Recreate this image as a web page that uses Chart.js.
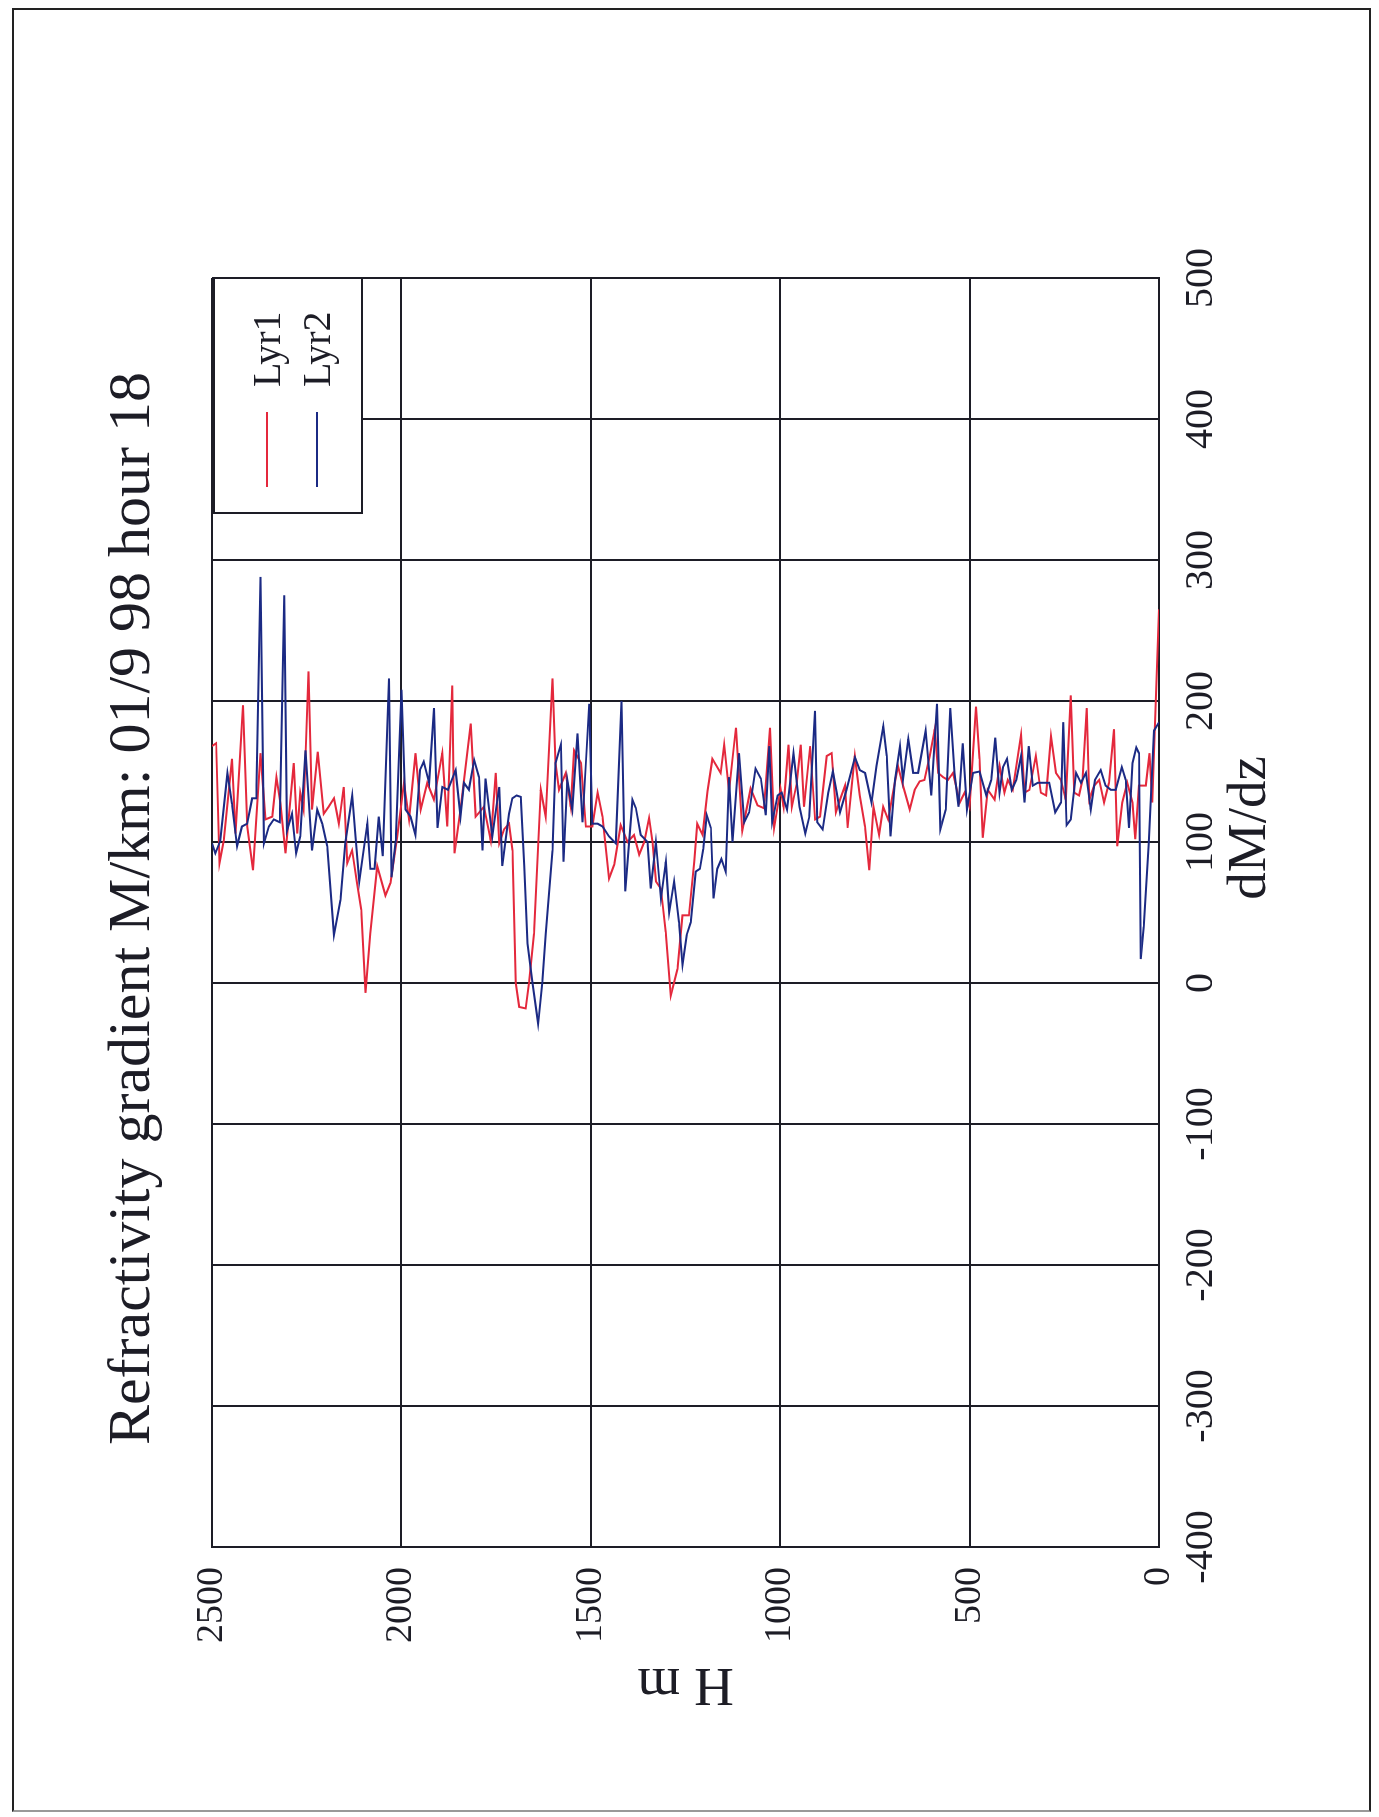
<!DOCTYPE html>
<html>
<head>
<meta charset="utf-8">
<title>Refractivity gradient M/km</title>
<script src="https://cdn.jsdelivr.net/npm/chart.js@4.4.1/dist/chart.umd.min.js"></script>
<style>
  html, body { margin: 0; padding: 0; background: #fff; overflow: hidden; }
  body { width: 1379px; height: 1817px; position: relative; }
  /* scanned page frame */
  #frame { position: absolute; left: 12px; top: 8px; width: 1359px; height: 1804px;
           border: 2px solid #222; border-bottom-color: #999; box-sizing: border-box; }
  /* the chart was printed landscape, page is turned a quarter to the left */
  #rot { position: absolute; left: 0; top: 0; width: 1817px; height: 1379px;
         transform-origin: 0 0; transform: translateY(1817px) rotate(-90deg); }
</style>
</head>
<body>
<div id="frame"></div>
<div id="rot"><canvas id="chart" width="1817" height="1379"></canvas></div>
<script>
// ---- data ----
const heightTicks = [0, 500, 1000, 1500, 2000, 2500];
const dMdzTicks = [-400, -300, -200, -100, 0, 100, 200, 300, 400, 500];

// Lyr1: heights (m) and dM/dz
const lyr1H = [2500,2489,2480,2469,2447,2438,2418,2407,2392,2372,
  2359,2341,2330,2319,2306,2284,2275,2267,2258,2245,
  2236,2221,2205,2192,2178,2165,2152,2143,2130,2117,
  2106,2095,2082,2064,2042,2029,2011,1993,1980,1963,
  1949,1932,1914,1892,1879,1866,1860,1844,1817,1804,
  1782,1764,1751,1742,1729,1716,1707,1698,1689,1672,
  1663,1650,1632,1619,1601,1593,1584,1566,1553,1544,
  1526,1513,1496,1482,1469,1452,1438,1421,1403,1386,
  1372,1359,1346,1337,1328,1315,1302,1289,1271,1258,
  1241,1227,1219,1205,1192,1179,1157,1148,1135,1117,
  1100,1078,1060,1043,1027,1016,999,991,978,969,
  956,946,937,921,908,895,877,864,853,842,
  829,822,811,803,790,776,765,754,739,728,
  715,702,689,676,658,645,632,619,605,592,
  583,570,557,544,526,513,500,483,474,465,
  452,434,421,408,399,386,364,355,342,325,
  312,298,285,272,259,246,233,224,211,202,
  191,184,171,158,145,132,119,110,97,84,
  70,63,53,35,25,18,0];
const lyr1 = [168,170,85,101,159,106,197,111,80,163,
  116,118,146,127,92,156,106,135,123,221,
  123,164,120,125,131,113,139,85,94,71,
  52,-7,35,83,62,71,104,142,116,163,
  123,142,130,163,111,211,92,123,184,118,
  125,101,149,99,109,113,94,0,-17,-18,
  0,35,137,118,216,156,137,149,125,165,
  156,111,111,135,118,74,84,112,100,105,
  91,100,117,100,72,67,36,-9,10,48,
  48,86,113,105,136,159,149,169,136,181,
  108,138,126,124,181,110,138,125,169,125,
  142,169,125,168,116,118,161,163,121,130,
  140,110,140,161,133,111,80,125,105,125,
  116,135,154,140,123,137,143,144,161,180,
  149,146,144,149,128,135,125,196,159,103,
  137,130,154,135,144,137,176,135,137,161,
  135,133,175,149,144,130,204,135,133,144,
  195,130,140,144,128,142,180,97,128,142,
  128,102,140,140,163,128,265];

// Lyr2: heights (m) and dM/dz
const lyr2H = [2500,2491,2478,2459,2447,2434,2421,2407,2394,2383,
  2372,2363,2350,2337,2321,2309,2302,2289,2278,2267,
  2253,2236,2222,2209,2196,2178,2161,2148,2130,2121,
  2111,2090,2082,2071,2060,2049,2033,2026,2015,2000,
  1989,1976,1963,1951,1941,1927,1914,1905,1892,1877,
  1857,1844,1835,1822,1808,1795,1786,1778,1760,1742,
  1734,1716,1707,1696,1685,1676,1667,1654,1639,1628,
  1619,1601,1593,1579,1572,1562,1549,1535,1522,1513,
  1504,1496,1482,1469,1452,1434,1419,1409,1390,1381,
  1368,1350,1342,1328,1315,1302,1293,1280,1267,1258,
  1247,1236,1223,1212,1203,1194,1183,1176,1166,1155,
  1144,1135,1126,1109,1095,1082,1065,1051,1038,1029,
  1021,1007,996,982,965,949,934,923,908,902,
  888,873,861,851,842,825,803,790,776,759,
  746,728,719,709,697,684,676,662,649,636,
  616,601,586,577,563,551,540,529,518,507,
  491,474,456,443,432,421,412,401,389,377,
  364,355,344,333,320,307,290,274,259,253,
  244,233,219,206,193,180,169,154,141,127,
  114,98,88,79,70,60,53,48,40,27,
  13,0];
const lyr2 = [99,92,101,149,127,97,111,113,131,131,
  288,99,111,116,114,275,108,120,92,104,
  165,94,123,113,97,34,59,99,133,104,
  72,113,81,81,118,90,216,75,101,208,
  123,118,105,151,157,142,195,110,139,137,
  151,118,142,137,158,146,94,145,104,139,
  83,120,131,133,132,83,28,0,-29,0,
  35,94,156,169,86,144,123,177,114,156,
  198,113,113,111,104,99,200,65,130,124,
  105,100,67,100,60,86,50,72,43,13,
  34,43,79,81,95,119,110,60,81,88,
  79,146,100,163,114,121,152,145,119,168,
  114,133,135,123,163,125,106,118,193,114,
  109,135,150,135,121,137,160,151,149,128,
  154,182,161,104,144,168,144,173,149,149,
  179,133,198,109,123,195,149,125,170,123,
  149,150,133,144,174,135,153,159,137,144,
  161,128,168,140,142,142,142,121,128,185,
  112,116,149,142,149,123,144,151,140,137,
  137,153,144,110,156,167,163,17,40,99,
  179,185];

const RED = '#e4283c';
const BLUE = '#1b2a84';
const INK = '#1d1d26';
const SERIF = '"Liberation Serif", "Times New Roman", serif';

Chart.defaults.font.family = SERIF;
Chart.defaults.color = INK;

// boxed legend in the upper right corner of the plot
const boxLegend = {
  id: 'boxLegend',
  afterDatasetsDraw(chart) {
    const { ctx, chartArea: a } = chart;
    const w = 235, h = 148;
    const x0 = a.right - w, y0 = a.top + 2;
    ctx.save();
    ctx.fillStyle = '#fff';
    ctx.fillRect(x0, y0, w, h);
    ctx.strokeStyle = INK;
    ctx.lineWidth = 2;
    ctx.strokeRect(x0, y0, w, h);
    ctx.font = '40px ' + SERIF;
    ctx.textBaseline = 'middle';
    ctx.textAlign = 'left';
    chart.data.datasets.forEach((ds, i) => {
      const y = y0 + 53 + i * 50;
      ctx.strokeStyle = ds.borderColor;
      ctx.lineWidth = 2;
      ctx.beginPath();
      ctx.moveTo(x0 + 26, y);
      ctx.lineTo(x0 + 101, y);
      ctx.stroke();
      ctx.fillStyle = INK;
      ctx.fillText(ds.label, x0 + 126, y + 2);
    });
    ctx.restore();
  }
};

// x axis title sits right of centre in the original
const xAxisTitle = {
  id: 'xAxisTitle',
  afterDraw(chart) {
    const xs = chart.scales.x;
    const ctx = chart.ctx;
    ctx.save();
    ctx.font = '55px ' + SERIF;
    ctx.fillStyle = INK;
    ctx.textAlign = 'center';
    ctx.textBaseline = 'middle';
    ctx.fillText('dM/dz', xs.getPixelForValue(110), xs.top + 92);
    ctx.restore();
  }
};

new Chart(document.getElementById('chart'), {
  type: 'scatter',
  data: {
    datasets: [
      {
        label: 'Lyr1',
        data: lyr1H.map((h, i) => ({ x: lyr1[i], y: h })),
        borderColor: RED,
        backgroundColor: RED,
        showLine: true,
        borderWidth: 2,
        pointRadius: 0,
        order: 1
      },
      {
        label: 'Lyr2',
        data: lyr2H.map((h, i) => ({ x: lyr2[i], y: h })),
        borderColor: BLUE,
        backgroundColor: BLUE,
        showLine: true,
        borderWidth: 2,
        pointRadius: 0,
        order: 0
      }
    ]
  },
  options: {
    responsive: false,
    animation: false,
    devicePixelRatio: 1,
    layout: { padding: 0 },
    plugins: {
      legend: { display: false },
      tooltip: { enabled: false },
      title: {
        display: true,
        text: 'Refractivity gradient M/km: 01/9 98 hour 18',
        color: INK,
        font: { family: SERIF, size: 60, weight: 'normal' },
        padding: { top: 97, bottom: 43 }
      }
    },
    scales: {
      x: {
        type: 'linear',
        position: 'bottom',
        min: -400,
        max: 500,
        afterBuildTicks: s => { s.ticks = dMdzTicks.map(v => ({ value: v })); },
        afterFit: s => { s.height = 220; },
        ticks: {
          font: { size: 40 },
          color: INK,
          padding: 18,
          maxRotation: 0,
          autoSkip: false,
          callback: v => String(v)
        },
        grid: { color: INK, lineWidth: 2, drawTicks: false },
        border: { color: INK, width: 2 }
      },
      y: {
        type: 'linear',
        position: 'left',
        min: 0,
        max: 2500,
        afterBuildTicks: s => { s.ticks = heightTicks.map(v => ({ value: v })); },
        afterFit: s => { s.width = 270; },
        ticks: {
          font: { size: 38 },
          color: INK,
          padding: 20,
          autoSkip: false,
          callback: v => String(v)
        },
        grid: { color: INK, lineWidth: 2, drawTicks: false },
        border: { color: INK, width: 2 },
        title: {
          display: true,
          text: 'H m',
          color: INK,
          font: { size: 55 },
          padding: { top: 101, bottom: 0 }
        }
      },
      // empty right margin so the title stays centred on the page
      yPad: {
        type: 'linear',
        position: 'right',
        afterFit: s => { s.width = 278; },
        ticks: { display: false },
        grid: { display: false, drawOnChartArea: false },
        border: { display: false }
      }
    }
  },
  plugins: [boxLegend, xAxisTitle]
});
</script>
</body>
</html>
